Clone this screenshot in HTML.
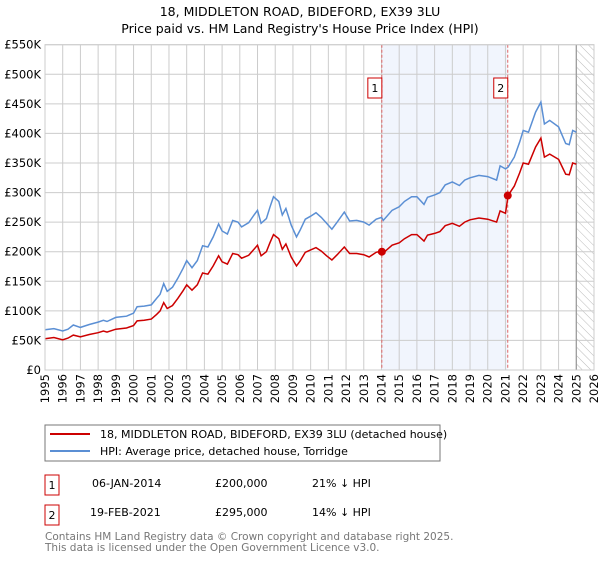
<!DOCTYPE html>
<html><head><meta charset="utf-8"><style>
body{margin:0;background:#fff;font-family:"Liberation Sans","DejaVu Sans",sans-serif}
svg text{font-family:"DejaVu Sans","Liberation Sans",sans-serif}
</style></head><body>
<svg id="chart" width="600" height="560" xmlns="http://www.w3.org/2000/svg">
<defs><pattern id="hatch" width="6" height="6" patternUnits="userSpaceOnUse" patternTransform="rotate(-45)"><line x1="0" y1="0" x2="0" y2="6" stroke="#bbb" stroke-width="1"/></pattern></defs>
<text x="300" y="16" text-anchor="middle" font-size="12.5">18, MIDDLETON ROAD, BIDEFORD, EX39 3LU</text>
<text x="300" y="33" text-anchor="middle" font-size="12.5">Price paid vs. HM Land Registry's House Price Index (HPI)</text>
<g id="plot"></g>
<g>
<rect x="45" y="425" width="395" height="36" fill="#fff" stroke="#777"/>
<line x1="50" y1="434" x2="90" y2="434" stroke="#cc0000" stroke-width="2"/>
<text x="100" y="438" font-size="11">18, MIDDLETON ROAD, BIDEFORD, EX39 3LU (detached house)</text>
<line x1="50" y1="451" x2="90" y2="451" stroke="#5b8fd4" stroke-width="2"/>
<text x="100" y="455" font-size="11">HPI: Average price, detached house, Torridge</text>
</g>
<g font-size="11">
<rect x="45" y="475" width="14" height="20" fill="#fff" stroke="#cc0000"/><text x="52" y="489" text-anchor="middle">1</text>
<text x="92" y="487">06-JAN-2014</text><text x="215" y="487">£200,000</text><text x="312" y="487">21% ↓ HPI</text>
<rect x="45" y="505" width="14" height="20" fill="#fff" stroke="#cc0000"/><text x="52" y="519" text-anchor="middle">2</text>
<text x="90" y="516">19-FEB-2021</text><text x="215" y="516">£295,000</text><text x="312" y="516">14% ↓ HPI</text>
</g>
<text x="45" y="540" font-size="10.5" fill="#777">Contains HM Land Registry data © Crown copyright and database right 2025.</text>
<text x="45" y="551" font-size="10.5" fill="#777">This data is licensed under the Open Government Licence v3.0.</text>
</svg>
<script>
const years=[1995.0,1995.5,1996.0,1996.3,1996.6,1997.0,1997.5,1998.0,1998.3,1998.5,1999.0,1999.3,1999.6,2000.0,2000.2,2000.6,2001.0,2001.3,2001.5,2001.7,2001.9,2002.2,2002.5,2002.8,2003.0,2003.3,2003.6,2003.9,2004.2,2004.5,2004.8,2005.0,2005.3,2005.6,2005.9,2006.1,2006.5,2006.8,2007.0,2007.2,2007.5,2007.7,2007.9,2008.2,2008.4,2008.6,2008.9,2009.2,2009.4,2009.7,2010.0,2010.3,2010.6,2010.9,2011.2,2011.5,2011.9,2012.2,2012.6,2013.0,2013.3,2013.7,2014.0,2014.1,2014.6,2015.0,2015.3,2015.7,2016.0,2016.4,2016.6,2017.0,2017.3,2017.6,2018.0,2018.4,2018.7,2019.0,2019.5,2020.0,2020.5,2020.7,2021.0,2021.15,2021.5,2021.8,2022.0,2022.3,2022.7,2023.0,2023.2,2023.5,2024.0,2024.4,2024.6,2024.8,2025.0];
const hpiValues=[68,70,66,69,76,72,77,81,84,82,89,90,91,96,107,108,110,121,128,146,133,140,155,172,185,173,185,210,208,225,247,235,230,253,250,242,249,262,270,248,256,275,293,285,262,273,245,225,236,255,260,266,258,248,238,250,267,252,253,250,245,255,258,253,270,276,285,293,293,280,292,296,300,313,318,312,321,325,329,327,321,345,340,343,360,385,405,402,436,453,416,422,411,383,381,405,402];
const priceValues=[53,55,51,54,59,56,60,63,66,64,69,70,71,75,83,84,86,94,100,114,104,109,121,134,144,135,144,164,162,176,193,183,179,197,195,189,194,204,211,193,200,215,229,222,204,213,191,176,184,199,203,207,201,193,186,195,208,197,197,195,191,199,201,198,211,215,222,229,229,218,228,231,234,244,248,243,250,254,257,255,250,269,265,295,311,333,350,348,377,392,360,365,356,331,330,350,348];
const yTicks=[0,50,100,150,200,250,300,350,400,450,500,550];
const yTickLabels=["£0","£50K","£100K","£150K","£200K","£250K","£300K","£350K","£400K","£450K","£500K","£550K"];
const xTicks=[1995,1996,1997,1998,1999,2000,2001,2002,2003,2004,2005,2006,2007,2008,2009,2010,2011,2012,2013,2014,2015,2016,2017,2018,2019,2020,2021,2022,2023,2024,2025,2026];
const saleYears=[2014.02,2021.13];
const saleValues=[200,295];
const saleLabels=["1","2"];

const X0=45,X1=594,Y0=370,Y1=44.7,xmin=1995,xmax=2026,ymax=550;
const xs=v=>X0+(v-xmin)/(xmax-xmin)*(X1-X0);
const ys=v=>Y0-v/ymax*(Y0-Y1);
const NS="http://www.w3.org/2000/svg";
const g=document.getElementById('plot');
function mk(t,a,p){const e=document.createElementNS(NS,t);for(const k in a)e.setAttribute(k,a[k]);(p||g).appendChild(e);return e;}
let e;
e=mk('rect',{x:xs(saleYears[0]),y:Y1,width:xs(saleYears[1])-xs(saleYears[0]),height:Y0-Y1,fill:'#eef3fc',opacity:0.8});


e=mk('rect',{x:xs(2025),y:Y1,width:X1-xs(2025),height:Y0-Y1,fill:'url(#hatch)'});


yTicks.forEach((t,i)=>{
  e=mk('line',{x1:X0,x2:X1,y1:ys(t),y2:ys(t),stroke:'#ccc','stroke-width':1});
  
  
  e=mk('text',{x:X0-4,y:ys(t)+4,'text-anchor':'end','font-size':11.5});
  e.textContent=yTickLabels[i];
  
  
});
xTicks.forEach(t=>{
  e=mk('line',{x1:xs(t),x2:xs(t),y1:Y1,y2:Y0,stroke:'#ccc','stroke-width':1});
  
  
  e=mk('text',{x:0,y:0,'text-anchor':'end','font-size':11.5,transform:`translate(${xs(t)+4},${Y0+4}) rotate(-90)`});
  e.textContent=t;
  
  
});
e=mk('line',{x1:xs(2025),x2:xs(2025),y1:Y1,y2:Y0,stroke:'#999','stroke-width':1.2});


saleYears.forEach((s,i)=>{
  e=mk('line',{x1:xs(s),x2:xs(s),y1:Y1,y2:Y0,stroke:'#e06666','stroke-width':1,'stroke-dasharray':'3,2'});
  
  
});
const pts=v=>years.map((y,i)=>xs(y).toFixed(1)+','+ys(v[i]).toFixed(1)).join(' ');
e=mk('polyline',{points:pts(hpiValues),fill:'none',stroke:'#5b8fd4','stroke-width':1.5});


e=mk('polyline',{points:pts(priceValues),fill:'none',stroke:'#cc0000','stroke-width':1.5});


saleYears.forEach((s,i)=>{
  e=mk('circle',{cx:xs(s),cy:ys(saleValues[i]),r:4,fill:'#cc0000'});
  
  
  e=mk('rect',{x:xs(s)-14,y:78,width:14,height:20,fill:'#fff',stroke:'#cc0000'});
  
  
  e=mk('text',{x:xs(s)-7,y:92,'text-anchor':'middle','font-size':11});
  e.textContent=saleLabels[i];
  
  
});
e=mk('rect',{x:X0,y:Y1,width:X1-X0,height:Y0-Y1,fill:'none',stroke:'#ccc'});


</script>
</body></html>
